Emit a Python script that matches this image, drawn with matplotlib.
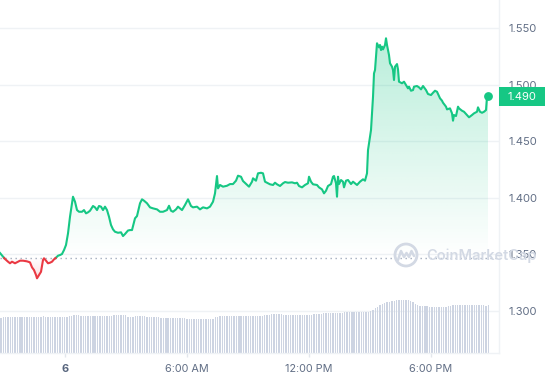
import numpy as np
import matplotlib
matplotlib.use('Agg')
import matplotlib.pyplot as plt
from matplotlib.patches import Polygon, Rectangle, Circle
from matplotlib.colors import to_rgb

plt.rcParams['font.family'] = ['Inter', 'DejaVu Sans']

# ---------------- data ----------------
# time in hours relative to midnight of day 6
times = [-3.197, -3.049, -2.951, -2.803, -2.705, -2.607, -2.459, -2.312, -2.213, -2.066,
         -1.869, -1.721, -1.623, -1.525, -1.426, -1.377, -1.279, -1.180, -1.082, -1.033,
         -0.934, -0.836, -0.738, -0.639, -0.541, -0.443, -0.344, -0.246, -0.148, -0.049,
         0.049, 0.148, 0.246, 0.344, 0.393, 0.492, 0.590, 0.689, 0.836, 0.934,
         1.033, 1.131, 1.230, 1.377, 1.475, 1.574, 1.672, 1.771, 1.869, 1.967,
         2.066, 2.164, 2.262, 2.361, 2.459, 2.607, 2.754, 2.853, 2.951, 3.098,
         3.197, 3.295, 3.443, 3.541, 3.689, 3.787, 3.885, 4.033, 4.180, 4.328,
         4.525, 4.672, 4.820, 5.016, 5.115, 5.213, 5.311, 5.459, 5.557, 5.754,
         5.902, 6.049, 6.197, 6.295, 6.492, 6.639, 6.787, 6.984, 7.131, 7.279,
         7.377, 7.475, 7.525, 7.623, 7.770, 7.967, 8.115, 8.262, 8.410, 8.508,
         8.656, 8.754, 8.951, 9.049, 9.197, 9.246, 9.393, 9.492, 9.639, 9.738,
         9.836, 9.934, 10.082, 10.230, 10.328, 10.426, 10.574, 10.721, 10.820, 10.967,
         11.164, 11.311, 11.410, 11.508, 11.656, 11.803, 11.951, 12.000, 12.098, 12.197,
         12.393, 12.492, 12.639, 12.738, 12.836, 12.934, 13.082, 13.180, 13.230, 13.328,
         13.377, 13.426, 13.475, 13.574, 13.672, 13.721, 13.820, 13.918, 14.066, 14.164,
         14.262, 14.361, 14.508, 14.656, 14.754, 14.852, 14.902, 15.000, 15.049, 15.148,
         15.197, 15.246, 15.295, 15.344, 15.443, 15.492, 15.541, 15.590, 15.639, 15.738,
         15.787, 15.836, 15.934, 15.984, 16.082, 16.131, 16.180, 16.230, 16.328, 16.377,
         16.426, 16.574, 16.672, 16.770, 16.869, 16.918, 17.016, 17.115, 17.164, 17.311,
         17.410, 17.508, 17.607, 17.754, 17.852, 18.000, 18.098, 18.197, 18.295, 18.443,
         18.541, 18.590, 18.738, 18.787, 18.934, 19.033, 19.082, 19.131, 19.230, 19.328,
         19.377, 19.525, 19.623, 19.770, 19.869, 20.016, 20.115, 20.262, 20.311, 20.410,
         20.508, 20.607, 20.705, 20.754, 20.803]

prices = [1.3509, 1.3476, 1.3456, 1.3432, 1.3418, 1.3432, 1.3418, 1.3432, 1.3441, 1.3441,
          1.3435, 1.3426, 1.3382, 1.3358, 1.3314, 1.3285, 1.3314, 1.3343, 1.3447, 1.3462,
          1.3441, 1.3418, 1.3423, 1.3432, 1.3453, 1.3467, 1.3485, 1.3491, 1.3500, 1.3535,
          1.3580, 1.3683, 1.3830, 1.3949, 1.4007, 1.3963, 1.3889, 1.3874, 1.3874, 1.3889,
          1.3860, 1.3869, 1.3883, 1.3925, 1.3913, 1.3889, 1.3925, 1.3919, 1.3889, 1.3919,
          1.3889, 1.3830, 1.3757, 1.3718, 1.3697, 1.3688, 1.3692, 1.3659, 1.3677, 1.3708,
          1.3712, 1.3712, 1.3816, 1.3836, 1.3949, 1.3984, 1.3972, 1.3949, 1.3913, 1.3904,
          1.3895, 1.3874, 1.3874, 1.3889, 1.3927, 1.3883, 1.3874, 1.3895, 1.3919, 1.3889,
          1.3934, 1.3984, 1.3925, 1.3913, 1.3919, 1.3895, 1.3913, 1.3904, 1.3919, 1.3963,
          1.4037, 1.4190, 1.4081, 1.4111, 1.4096, 1.4104, 1.4119, 1.4119, 1.4149, 1.4193,
          1.4184, 1.4146, 1.4113, 1.4096, 1.4140, 1.4170, 1.4149, 1.4214, 1.4219, 1.4214,
          1.4140, 1.4131, 1.4117, 1.4111, 1.4131, 1.4117, 1.4102, 1.4126, 1.4137, 1.4131,
          1.4134, 1.4126, 1.4131, 1.4102, 1.4090, 1.4111, 1.4126, 1.4184, 1.4140, 1.4117,
          1.4111, 1.4090, 1.4072, 1.4037, 1.4060, 1.4102, 1.4119, 1.4184, 1.4190, 1.4126,
          1.4007, 1.4184, 1.4119, 1.4155, 1.4140, 1.4090, 1.4149, 1.4155, 1.4119, 1.4140,
          1.4126, 1.4111, 1.4140, 1.4161, 1.4149, 1.4214, 1.4420, 1.4538, 1.4597, 1.4892,
          1.5099, 1.5128, 1.5246, 1.5365, 1.5329, 1.5350, 1.5305, 1.5335, 1.5311, 1.5350,
          1.5409, 1.5350, 1.5261, 1.5188, 1.5158, 1.5128, 1.5040, 1.5158, 1.5181, 1.5134,
          1.5025, 1.5011, 1.5025, 1.4996, 1.4966, 1.4981, 1.4945, 1.4951, 1.4981, 1.4987,
          1.4975, 1.4957, 1.4987, 1.4951, 1.4916, 1.4907, 1.4927, 1.4945, 1.4936, 1.4878,
          1.4857, 1.4839, 1.4804, 1.4780, 1.4789, 1.4745, 1.4680, 1.4730, 1.4721, 1.4804,
          1.4789, 1.4768, 1.4759, 1.4730, 1.4710, 1.4730, 1.4745, 1.4759, 1.4798, 1.4759,
          1.4750, 1.4759, 1.4774, 1.4892, 1.4900]

open_price = 1.3464
last_price_label = "1.490"

# volume bars (relative units, axis max = vol_axis_max), regular interval
vol_start = -3.148
vol_step = 0.1158
vol_axis_max = 353.0
volumes = ([34.7] + [36] * 17 + [37] + [36] * 10 + [37] * 2 + [38] * 3 + [37] * 14 +
           [38] * 6 + [36] * 3 + [37] * 5 + [36] * 6 + [35] * 11 + [34] * 12 + [35.7] * 2 +
           [37] * 19 + [38.3] * 3 + [39] * 5 + [38] * 13 + [39] * 4 + [39.7] * 6 + [40] * 3 +
           [41] * 11 + [42, 43.3, 45, 46.3, 48, 49.3, 50, 51, 51, 52, 52] + [53] * 6 +
           [52, 50.7, 49, 48.3] + [47] * 4 + [46] * 8 + [47] * 2 + [48] * 14 + [47, 48])

ytick_vals = [1.30, 1.35, 1.40, 1.45, 1.50, 1.55]
xtick_vals = [0, 6, 12, 18]
xtick_labels = ['6', '6:00 AM', '12:00 PM', '6:00 PM']

# ---------------- style ----------------
GREEN = '#16c784'
RED = '#ea3943'
GRID = '#eff2f5'
TXT = '#616e85'
W, H = 545, 380

fig = plt.figure(figsize=(W / 100, H / 100), dpi=100)
fig.patch.set_facecolor('white')
ax = fig.add_axes([0, 27 / H, 499 / W, 353 / H])
xlim = (-3.197, 21.344)
ylim = (1.2624, 1.5748)

t = np.array(times)
p = np.array(prices)
base = open_price

# volume bars in axis-fraction units
vt = vol_start + vol_step * np.arange(len(volumes))
ax.bar(vt, np.array(volumes) / vol_axis_max, width=0.068, bottom=0,
       color='#cdd4e2', linewidth=0, transform=ax.get_xaxis_transform(), zorder=1)

# insert crossing points at baseline
tt = [t[0]]
pp = [p[0]]
for i in range(1, len(t)):
    d0 = p[i - 1] - base
    d1 = p[i] - base
    if d0 * d1 < 0:
        f = d0 / (d0 - d1)
        tt.append(t[i - 1] + f * (t[i] - t[i - 1]))
        pp.append(base)
    tt.append(t[i])
    pp.append(p[i])
tt = np.array(tt)
pp = np.array(pp)


def grad_fill(upper, lower, color, a_bot, a_top, y_bot, y_top):
    rgb = to_rgb(color)
    n = 256
    img = np.zeros((n, 2, 4))
    img[..., :3] = rgb
    img[..., 3] = np.linspace(a_bot, a_top, n)[:, None]
    im = ax.imshow(img, extent=[tt[0], tt[-1], y_bot, y_top], origin='lower',
                   aspect='auto', zorder=2, interpolation='bilinear')
    verts = np.vstack([np.column_stack([tt, upper]),
                       np.column_stack([tt[::-1], lower[::-1]])])
    poly = Polygon(verts, closed=True, facecolor='none', edgecolor='none')
    ax.add_patch(poly)
    im.set_clip_path(poly)


up = np.maximum(pp, base)
dn = np.minimum(pp, base)
grad_fill(up, np.full_like(pp, base), GREEN, 0.0, 0.30, base, pp.max())
grad_fill(np.full_like(pp, base), dn, RED, 0.16, 0.0, pp.min(), base)

# baseline dotted
ax.axhline(base, color='#a3adbd', lw=1, ls=(0, (1, 2.6)), zorder=2.5)

green_line = np.where(pp >= base, pp, np.nan)
red_line = np.where(pp <= base, pp, np.nan)
ax.plot(tt, green_line, color=GREEN, lw=1.5, zorder=3, solid_joinstyle='round')
ax.plot(tt, red_line, color=RED, lw=1.5, zorder=3, solid_joinstyle='round')
ax.plot([t[-1]], [p[-1]], 'o', color=GREEN, ms=5.3, zorder=4)

ax.set_xlim(xlim)
ax.set_ylim(ylim)

# axes styling
ax.set_yticks(ytick_vals)
ax.set_yticklabels([f'{v:.3f}' for v in ytick_vals])
ax.yaxis.tick_right()
ax.tick_params(axis='y', length=0, pad=6.5, labelsize=8, labelcolor=TXT)
ax.set_xticks(xtick_vals)
ax.set_xticklabels(xtick_labels)
ax.tick_params(axis='x', length=3, width=1, color='#e3e7ed', pad=5,
               labelsize=7.8, labelcolor=TXT)
ax.get_xticklabels()[0].set_fontweight('bold')
ax.get_xticklabels()[0].set_color('#58667e')
ax.grid(axis='y', color=GRID, lw=1, zorder=0)
ax.set_axisbelow(True)
for s in ['top', 'left']:
    ax.spines[s].set_visible(False)
for s in ['right', 'bottom']:
    ax.spines[s].set_color(GRID)
    ax.spines[s].set_linewidth(1)

# price tag
fig.patches.append(Rectangle((499 / W, (H - 106) / H), 46 / W, 19 / H,
                             transform=fig.transFigure, facecolor=GREEN,
                             edgecolor='none', zorder=5))
fig.text(508 / W, (H - 96.5) / H, last_price_label, color='white', fontsize=8,
         ha='left', va='center', zorder=6)

# watermark
axo = fig.add_axes([0, 0, 1, 1], zorder=4)
axo.set_xlim(0, W)
axo.set_ylim(H, 0)
axo.axis('off')
axo.patch.set_visible(False)
wm = '#d3d9e4'
axo.add_patch(Circle((406, 255), 11, fill=False, ec=wm, lw=2.0))
axo.plot([398, 401, 404, 406.5, 409, 411.5, 414], [260, 251, 257, 253, 257, 251, 256],
         color=wm, lw=1.8, solid_joinstyle='round', solid_capstyle='round')
axo.text(426, 255.5, 'CoinMarketCap', fontsize=10.5, color=wm, va='center',
         ha='left', fontweight='semibold')

fig.savefig('out.png', dpi=100)
